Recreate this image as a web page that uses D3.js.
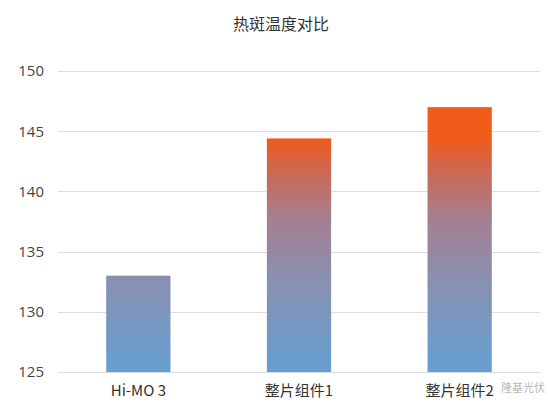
<!DOCTYPE html>
<html><head><meta charset="utf-8">
<script src="https://cdn.jsdelivr.net/npm/d3@7"></script>
<style>
html,body{margin:0;padding:0;background:#fff;}
svg{display:block;}
</style></head>
<body>
<script>
const title = "热斑温度对比";
const categories = ["Hi-MO 3", "整片组件1", "整片组件2"];
const values = [133.0, 144.4, 147.0];
const yTicks = [125, 130, 135, 140, 145, 150];
const watermark = "隆基光伏";

const W = 548, H = 407;
const svg = d3.select("body").append("svg").attr("width", W).attr("height", H);

const x = d3.scaleBand().domain(categories).range([58, 540]).paddingInner(0.6).paddingOuter(0.3);
const y = d3.scaleLinear().domain([125, 150]).range([372, 71]);

const defs = svg.append("defs");
const grad = defs.append("linearGradient").attr("id", "g")
  .attr("gradientUnits", "userSpaceOnUse")
  .attr("x1", 0).attr("x2", 0).attr("y1", y(125)).attr("y2", y(144.5));
[[0, "#65a0d2"], [0.4, "#8a8fb0"], [0.65, "#a67f90"], [0.85, "#c96a55"], [1, "#f25a1a"]]
  .forEach(([o, c]) => grad.append("stop").attr("offset", o).attr("stop-color", c));

// gridlines
svg.append("g").selectAll("line").data(yTicks).join("line")
  .attr("x1", 58).attr("x2", 540)
  .attr("y1", d => Math.round(y(d)) + 0.5).attr("y2", d => Math.round(y(d)) + 0.5)
  .attr("stroke", "#dcdcdc").attr("stroke-width", 1.2);

// y axis labels
const yAxis = d3.axisLeft(y).tickValues(yTicks).tickSize(0).tickPadding(0);
const ga = svg.append("g").attr("transform", "translate(44,0)").call(yAxis);
ga.select(".domain").remove();
ga.selectAll("text").attr("font-family", "'Open Sans', 'Noto Sans', sans-serif")
  .attr("font-size", 15).attr("fill", "#444");

// bars
svg.append("g").selectAll("rect").data(values).join("rect")
  .attr("x", (d, i) => x(categories[i]))
  .attr("width", x.bandwidth())
  .attr("y", d => y(d))
  .attr("height", d => y(125) - y(d))
  .attr("fill", "url(#g)");

// x axis labels
const xAxis = d3.axisBottom(x).tickSize(0).tickPadding(0);
const gx = svg.append("g").attr("transform", "translate(0,385)").call(xAxis);
gx.select(".domain").remove();
gx.selectAll("text").attr("font-family", "'Noto Sans CJK SC', 'Open Sans', sans-serif")
  .attr("font-size", 15).attr("fill", "#333");

// title
svg.append("text").attr("x", 281).attr("y", 30).attr("text-anchor", "middle")
  .attr("font-family", "'Noto Sans CJK SC', sans-serif").attr("font-size", 16)
  .attr("fill", "#333").text(title);

// watermark
svg.append("text").attr("x", 545).attr("y", 392).attr("text-anchor", "end")
  .attr("font-family", "'Noto Sans CJK SC', sans-serif").attr("font-size", 11)
  .attr("fill", "#b8b8b8").text(watermark);
</script>
</body></html>
